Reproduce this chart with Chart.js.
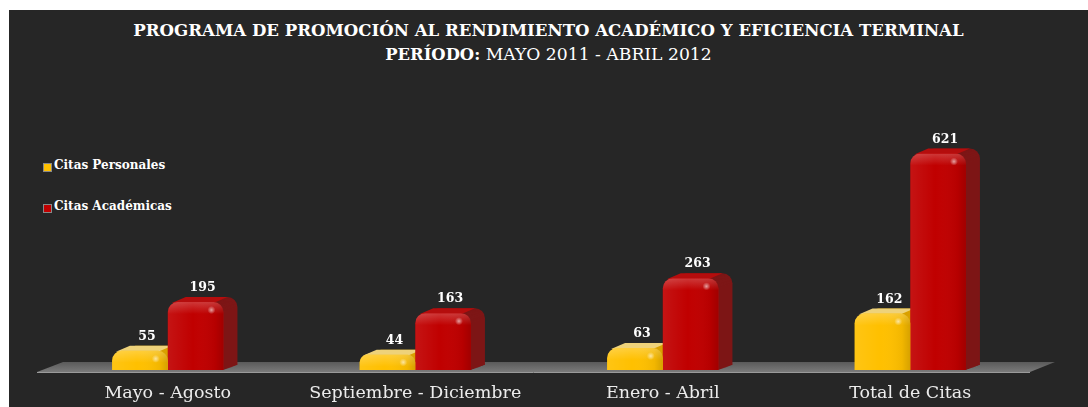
<!DOCTYPE html>
<html>
<head>
<meta charset="utf-8">
<script src="https://cdn.jsdelivr.net/npm/chart.js@4.4.1/dist/chart.umd.min.js"></script>
<style>
html, body { margin: 0; padding: 0; background: #fff; width: 1088px; height: 407px; overflow: hidden; }
#bg { position: absolute; left: 9px; top: 10px; width: 1079px; height: 397px; background: #262626; }
#chart { position: absolute; left: 0; top: 0; }
.title { position: absolute; left: 9px; width: 1079px; text-align: center; color: #fff;
  font-family: "DejaVu Serif", serif; white-space: nowrap; }
#t1 { top: 20px; font-size: 16.6px; font-weight: bold; }
#t2 { top: 44px; font-size: 17.2px; }
#t2 b { font-size: 16.4px; }
#legend { position: absolute; left: 43px; top: 158px; font-family: "DejaVu Serif", serif;
  font-size: 12px; font-weight: bold; color: #fff; }
#legend div { height: 41px; display: flex; align-items: flex-start; }
#legend span.sw { display: inline-block; width: 7px; height: 7px; margin: 5px 2px 0 0;
  border: 1px solid #888; }
</style>
</head>
<body>
<div id="bg"></div>
<div class="title" id="t1">PROGRAMA DE PROMOCIÓN AL RENDIMIENTO ACADÉMICO Y EFICIENCIA TERMINAL</div>
<div class="title" id="t2"><b>PERÍODO:</b> MAYO 2011 - ABRIL 2012</div>
<div id="legend"></div>
<canvas id="chart" width="1088" height="407"></canvas>
<script>
// data
const categories = ['Mayo - Agosto', 'Septiembre - Diciembre', 'Enero - Abril', 'Total de Citas'];
const seriesNames = ['Citas Personales', 'Citas Académicas'];
const citasPersonales = [55, 44, 63, 162];
const citasAcademicas = [195, 163, 263, 621];

const DX = 14, DY = 5, RAD = 10;
const looks = [
  { front: '#ffc000', side: '#d9a100', cap: '#eed27a' },
  { front: '#c00000', side: '#7d1616', cap: '#b50d0d' }
];

// legend
const lg = document.getElementById('legend');
seriesNames.forEach(function(n, i) {
  const d = document.createElement('div');
  d.innerHTML = '<span class="sw" style="background:' + looks[i].front + '"></span>' + n;
  lg.appendChild(d);
});

function topRounded(ctx, x, y, w, h, r) {
  r = Math.max(0, Math.min(r, w / 2, h / 2));
  ctx.beginPath();
  ctx.moveTo(x, y + h);
  ctx.lineTo(x, y + r);
  ctx.arcTo(x, y, x + r, y, r);
  ctx.lineTo(x + w - r, y);
  ctx.arcTo(x + w, y, x + w, y + r, r);
  ctx.lineTo(x + w, y + h);
  ctx.closePath();
}

const floorPlugin = {
  id: 'floor',
  beforeDatasetsDraw(chart) {
    const ctx = chart.ctx, a = chart.chartArea;
    const yb = a.bottom + 2, yt = a.bottom - 8;
    ctx.save();
    const g = ctx.createLinearGradient(0, yt, 0, yb);
    g.addColorStop(0, '#5a5a5a');
    g.addColorStop(1, '#7a7a7a');
    ctx.fillStyle = g;
    ctx.beginPath();
    ctx.moveTo(a.left - 7, yb);
    ctx.lineTo(a.left + 19, yt);
    ctx.lineTo(a.right + 21, yt);
    ctx.lineTo(a.right - 4, yb);
    ctx.closePath();
    ctx.fill();
    ctx.strokeStyle = '#9a9a9a';
    ctx.lineWidth = 1;
    ctx.beginPath();
    ctx.moveTo(a.left - 7, yb + 0.5);
    ctx.lineTo(a.right - 4, yb + 0.5);
    ctx.stroke();
    ctx.restore();
  }
};

const depthPlugin = {
  id: 'depth',
  beforeDatasetsDraw(chart) {
    const ctx = chart.ctx;
    ctx.save();
    chart.data.datasets.forEach(function(ds, di) {
      const lk = looks[di];
      chart.getDatasetMeta(di).data.forEach(function(bar) {
        const p = bar.getProps(['x', 'y', 'base', 'width'], true);
        const xl = p.x - p.width / 2, h = p.base - p.y;
        ctx.fillStyle = lk.side;
        for (let i = DX; i >= 1; i--) {
          topRounded(ctx, xl + i, p.y - i * DY / DX, p.width, h, RAD);
          ctx.fill();
        }
        const r = Math.min(RAD, h / 2, p.width / 2);
        ctx.fillStyle = lk.cap;
        ctx.beginPath();
        ctx.moveTo(xl + r * 0.4, p.y + 1);
        ctx.lineTo(xl + p.width - r, p.y + 1);
        ctx.lineTo(xl + p.width - r + DX, p.y - DY);
        ctx.lineTo(xl + r * 0.4 + DX, p.y - DY);
        ctx.closePath();
        ctx.fill();
      });
    });
    ctx.restore();
  },
  afterDatasetsDraw(chart) {
    const ctx = chart.ctx;
    ctx.save();
    chart.data.datasets.forEach(function(ds, di) {
      chart.getDatasetMeta(di).data.forEach(function(bar, k) {
        const p = bar.getProps(['x', 'y', 'base', 'width'], true);
        const xl = p.x - p.width / 2, h = p.base - p.y;
        // shading
        ctx.save();
        topRounded(ctx, xl, p.y, p.width, h, RAD);
        ctx.clip();
        let g = ctx.createLinearGradient(xl, 0, xl + p.width, 0);
        g.addColorStop(0, 'rgba(255,255,255,0.08)');
        g.addColorStop(0.45, 'rgba(255,255,255,0)');
        g.addColorStop(0.85, 'rgba(0,0,0,0.05)');
        g.addColorStop(1, 'rgba(0,0,0,0.16)');
        ctx.fillStyle = g;
        ctx.fillRect(xl, p.y, p.width, h);
        g = ctx.createLinearGradient(0, p.y, 0, p.y + 12);
        g.addColorStop(0, 'rgba(255,255,255,0.22)');
        g.addColorStop(1, 'rgba(255,255,255,0)');
        ctx.fillStyle = g;
        ctx.fillRect(xl, p.y, p.width, 12);
        const hx = xl + p.width - 12, hy = p.y + Math.min(8, h / 2);
        g = ctx.createRadialGradient(hx, hy, 0, hx, hy, 4);
        g.addColorStop(0, 'rgba(255,255,255,0.6)');
        g.addColorStop(1, 'rgba(255,255,255,0)');
        ctx.fillStyle = g;
        ctx.fillRect(hx - 4, hy - 4, 8, 8);
        ctx.restore();
        // value label
        ctx.fillStyle = '#ffffff';
        ctx.font = 'bold 12.5px "DejaVu Serif"';
        ctx.textAlign = 'center';
        ctx.textBaseline = 'bottom';
        ctx.fillText(String(ds.data[k]), p.x + DX / 2, p.y - DY - 3);
      });
    });
    ctx.restore();
  }
};

new Chart(document.getElementById('chart'), {
  type: 'bar',
  data: {
    labels: categories,
    datasets: [
      { label: seriesNames[0], data: citasPersonales, backgroundColor: looks[0].front },
      { label: seriesNames[1], data: citasAcademicas, backgroundColor: looks[1].front }
    ]
  },
  options: {
    responsive: false,
    animation: false,
    layout: { padding: { left: 44, right: 54, top: 126, bottom: 0 } },
    datasets: {
      bar: {
        categoryPercentage: 0.45,
        barPercentage: 1.0,
        borderRadius: { topLeft: RAD, topRight: RAD, bottomLeft: 0, bottomRight: 0 },
        borderSkipped: false
      }
    },
    plugins: { legend: { display: false }, tooltip: { enabled: false } },
    scales: {
      x: {
        grid: { display: false, drawTicks: false },
        border: { display: false },
        ticks: { color: '#ececec', padding: 13, font: { family: 'DejaVu Serif', size: 17.5 } },
        afterFit(scale) { scale.height = 37; }
      },
      y: { display: false, min: 0, max: 700 }
    }
  },
  plugins: [floorPlugin, depthPlugin]
});
</script>
</body>
</html>
